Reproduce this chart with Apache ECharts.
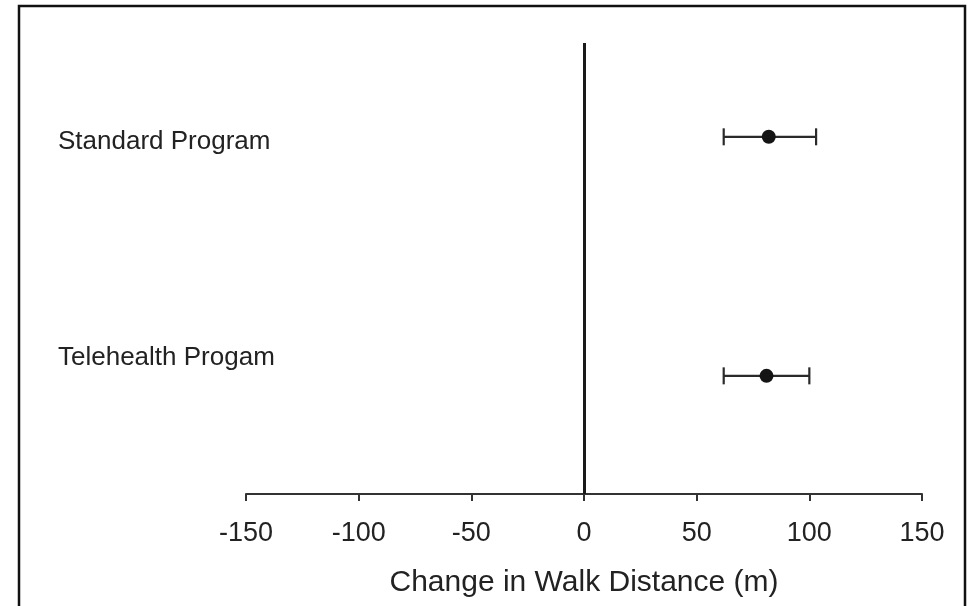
<!DOCTYPE html>
<html>
<head>
<meta charset="utf-8">
<script src="https://cdn.jsdelivr.net/npm/echarts@6/dist/echarts.min.js"></script>
<style>html,body{margin:0;padding:0;background:#fff;}#c{width:971px;height:606px;}</style>
</head>
<body>
<div id="c"></div>
<script>
const categories = ['Standard Program', 'Telehealth Progam'];
const means = [82, 81];
const lower = [62, 62];
const upper = [103, 100];
const rowY = [7.92, 2.62];
const labelY = [7.80, 3.03];
const xTicks = [-150, -100, -50, 0, 50, 100, 150];

const chart = echarts.init(document.getElementById('c'));
const font = 'Liberation Sans, Arial, sans-serif';

const errData = categories.map((c, i) => [lower[i], upper[i], rowY[i]]);
const ptData = categories.map((c, i) => [means[i], rowY[i]]);
const lblData = categories.map((c, i) => [xTicks[0], labelY[i], c]);

chart.setOption({
  animation: false,
  backgroundColor: '#fff',
  grid: { left: 246, right: 49, top: 43, bottom: 112 },
  xAxis: {
    type: 'value', min: -150, max: 150, interval: 50,
    axisLine: { show: true, lineStyle: { color: '#333', width: 2 } },
    axisTick: { show: true, length: 7, lineStyle: { color: '#333', width: 2 } },
    axisLabel: { fontSize: 27, color: '#222', fontFamily: font, margin: 26,
      formatter: v => String(v) },
    splitLine: { show: false },
    name: 'Change in Walk Distance (m)',
    nameLocation: 'middle', nameGap: 74,
    nameTextStyle: { fontSize: 30, color: '#222', fontFamily: font }
  },
  yAxis: { type: 'value', min: 0, max: 10, show: false },
  graphic: [{
    type: 'rect', silent: true,
    shape: { x: 19, y: 6, width: 946, height: 700 },
    style: { fill: 'none', stroke: '#111', lineWidth: 2.5 }
  }],
  series: [
    {
      type: 'custom',
      data: errData,
      renderItem: function (params, api) {
        const lo = api.coord([api.value(0), api.value(2)]);
        const hi = api.coord([api.value(1), api.value(2)]);
        const h = 8.5;
        const st = { stroke: '#2a2a2a', lineWidth: 2.2 };
        return { type: 'group', children: [
          { type: 'line', shape: { x1: lo[0], y1: lo[1], x2: hi[0], y2: hi[1] }, style: st },
          { type: 'line', shape: { x1: lo[0], y1: lo[1] - h, x2: lo[0], y2: lo[1] + h }, style: st },
          { type: 'line', shape: { x1: hi[0], y1: hi[1] - h, x2: hi[0], y2: hi[1] + h }, style: st }
        ]};
      },
      z: 2
    },
    {
      type: 'scatter', data: ptData, symbol: 'circle', symbolSize: 14,
      itemStyle: { color: '#141414', opacity: 1 }, z: 3,
      markLine: {
        silent: true, symbol: 'none', label: { show: false },
        lineStyle: { color: '#1a1a1a', width: 3, type: 'solid' },
        data: [{ xAxis: 0 }]
      }
    },
    {
      type: 'custom',
      data: lblData,
      renderItem: function (params, api) {
        const p = api.coord([api.value(0), api.value(1)]);
        return { type: 'text', x: 58, y: p[1],
          style: { text: categories[params.dataIndex], fontSize: 26, fontFamily: font,
            fill: '#222', textVerticalAlign: 'middle', textAlign: 'left' } };
      },
      clip: false, z: 4
    }
  ]
});
</script>
</body>
</html>
